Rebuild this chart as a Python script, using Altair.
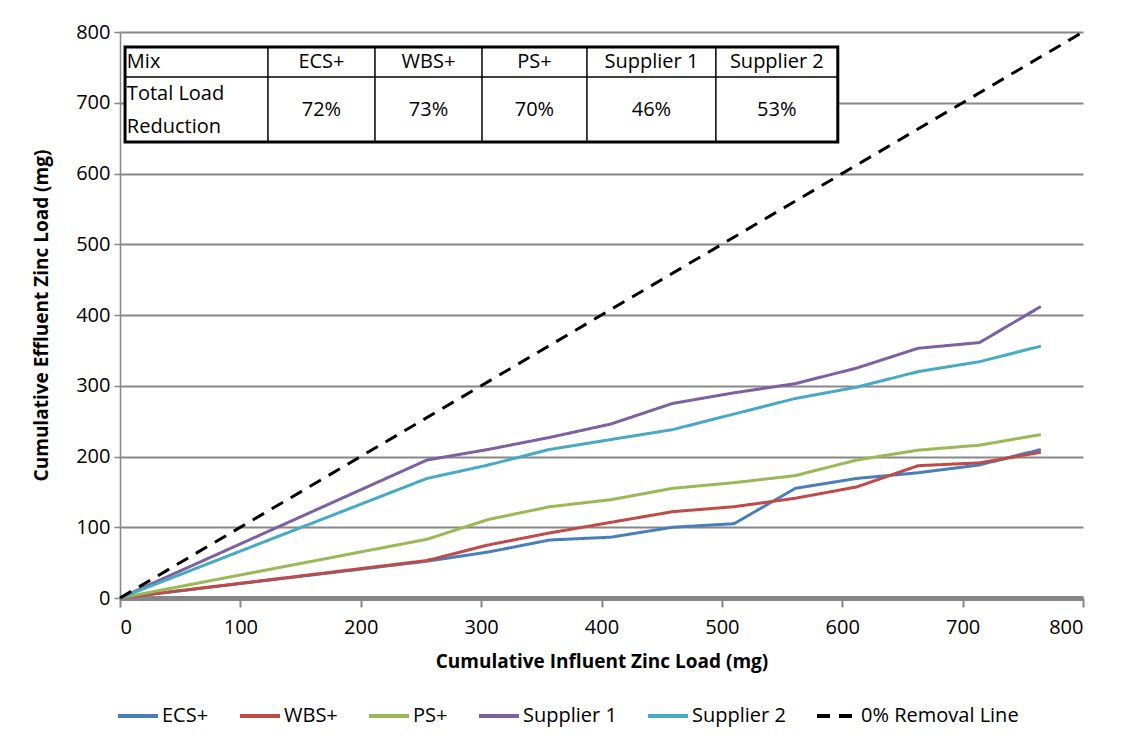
import altair as alt
import pandas as pd

# ---- data ----
influent = [0, 255, 306, 357, 408, 459, 510, 561, 612, 663, 714, 765]
ecs = [0, 52, 65, 82, 86, 100, 105, 155, 169, 177, 188, 210]
wbs = [0, 53, 75, 92, 107, 122, 129, 141, 157, 187, 191, 206]
ps = [0, 83, 111, 129, 139, 155, 163, 173, 195, 209, 216, 231]
sup1 = [0, 195, 210, 227, 246, 275, 290, 303, 325, 353, 361, 412]
sup2 = [0, 169, 188, 210, 224, 238, 260, 282, 298, 320, 334, 356]
removal_x = [0, 800]
removal_y = [0, 800]

series_names = ["ECS+", "WBS+", "PS+", "Supplier 1", "Supplier 2", "0% Removal Line"]
series_colors = ["#4A7EBB", "#BE4B48", "#98B954", "#7D60A0", "#46AAC5", "#000000"]

table_header = ["Mix", "ECS+", "WBS+", "PS+", "Supplier 1", "Supplier 2"]
table_values = ["72%", "73%", "70%", "46%", "53%"]
table_row_label = ["Total Load", "Reduction"]
# table grid in data units
col_edges = [4.2, 122.9, 211.8, 300.7, 387.9, 495.0, 596.3]
row_edges = [778.8, 736.4, 644.5]

FONT = "Open Sans"
FS = 20

rows = []
for name, ys in zip(series_names[:5], [ecs, wbs, ps, sup1, sup2]):
    for i, (x, y) in enumerate(zip(influent, ys)):
        rows.append({"series": name, "x": x, "y": y, "order": i})
for i, (x, y) in enumerate(zip(removal_x, removal_y)):
    rows.append({"series": series_names[5], "x": x, "y": y, "order": i})
df = pd.DataFrame(rows)

xs = alt.Scale(domain=[0, 800], nice=False)
ys_ = alt.Scale(domain=[0, 800], nice=False)

lines = alt.Chart(df).mark_line(strokeWidth=3, clip=False).encode(
    x=alt.X("x:Q", scale=xs, title="Cumulative Influent Zinc Load (mg)",
            axis=alt.Axis(values=list(range(0, 801, 100)), grid=False, domainWidth=5,
                          domainColor="#878787", tickColor="#878787", tickSize=9, tickWidth=2,
                          labelFontSize=FS, titleFontSize=19, titleFontWeight="bold",
                          labelFont=FONT, titleFont=FONT, labelColor="#000", titleColor="#000",
                          labelPadding=10, titlePadding=15)),
    y=alt.Y("y:Q", scale=ys_, title="Cumulative Effluent Zinc Load (mg)",
            axis=alt.Axis(values=list(range(0, 801, 100)), grid=True, gridColor="#878787",
                          gridWidth=2, domainColor="#878787", domainWidth=1.5,
                          tickColor="#878787", tickSize=6, tickWidth=1.5,
                          labelFontSize=FS, titleFontSize=19, titleFontWeight="bold",
                          labelFont=FONT, titleFont=FONT, labelColor="#000", titleColor="#000",
                          labelPadding=4, titlePadding=24)),
    color=alt.Color("series:N", scale=alt.Scale(domain=series_names, range=series_colors),
                    title=None,
                    legend=alt.Legend(orient="none", direction="horizontal", legendX=-4,
                                      legendY=662, symbolType="stroke", symbolSize=1600,
                                      symbolStrokeWidth=4, labelFontSize=FS, labelFont=FONT,
                                      labelColor="#000", columnPadding=23, symbolOffset=0,
                                      labelOffset=2, padding=0)),
    strokeDash=alt.StrokeDash("series:N", scale=alt.Scale(domain=series_names,
                              range=[[1, 0]] * 5 + [[13, 9]]), title=None),
    order="order:Q",
)

# ---- table ----
box = pd.DataFrame([{"x": col_edges[0], "x2": col_edges[-1], "y": row_edges[0], "y2": row_edges[-1]}])
table_box = alt.Chart(box).mark_rect(fill="white", stroke="black", strokeWidth=3).encode(
    x=alt.X("x:Q", scale=xs), x2="x2:Q", y=alt.Y("y:Q", scale=ys_), y2="y2:Q")

vlines = pd.DataFrame([{"x": c, "y": row_edges[0], "y2": row_edges[-1]} for c in col_edges[1:-1]])
table_v = alt.Chart(vlines).mark_rule(color="black", strokeWidth=1.5).encode(
    x=alt.X("x:Q", scale=xs), y=alt.Y("y:Q", scale=ys_), y2="y2:Q")
hlines = pd.DataFrame([{"x": col_edges[0], "x2": col_edges[-1], "y": row_edges[1]}])
table_h = alt.Chart(hlines).mark_rule(color="black", strokeWidth=1.5).encode(
    x=alt.X("x:Q", scale=xs), x2="x2:Q", y=alt.Y("y:Q", scale=ys_))

hdr_y = (row_edges[0] + row_edges[1]) / 2
val_y = (row_edges[1] + row_edges[2]) / 2
trows = []
for i, h in enumerate(table_header):
    if i == 0:
        trows.append({"t": h, "x": col_edges[0] + 1.5, "y": hdr_y, "a": "left"})
    else:
        trows.append({"t": h, "x": (col_edges[i] + col_edges[i + 1]) / 2, "y": hdr_y, "a": "center"})
for i, v in enumerate(table_values):
    trows.append({"t": v, "x": (col_edges[i + 1] + col_edges[i + 2]) / 2, "y": val_y, "a": "center"})
tdf = pd.DataFrame(trows)
tl = pd.DataFrame([
    {"t": table_row_label[0], "x": col_edges[0] + 1.5, "y": val_y + 22},
    {"t": table_row_label[1], "x": col_edges[0] + 1.5, "y": val_y - 25},
])
text_c = alt.Chart(tdf[tdf.a == "center"]).mark_text(fontSize=FS, font=FONT, align="center",
                                                     baseline="middle", color="#000").encode(
    x=alt.X("x:Q", scale=xs), y=alt.Y("y:Q", scale=ys_), text="t:N")
text_l = alt.Chart(pd.concat([tdf[tdf.a == "left"], tl])).mark_text(
    fontSize=FS, font=FONT, align="left", baseline="middle", color="#000").encode(
    x=alt.X("x:Q", scale=xs), y=alt.Y("y:Q", scale=ys_), text="t:N")

chart = alt.layer(lines, table_box, table_v, table_h, text_c, text_l).properties(
    width=963, height=566, padding={"left": 24, "top": 14, "right": 5, "bottom": 5},
    background="white",
).configure_view(stroke=None)

chart.save("out.html", embed_options={"renderer": "svg", "actions": False})
